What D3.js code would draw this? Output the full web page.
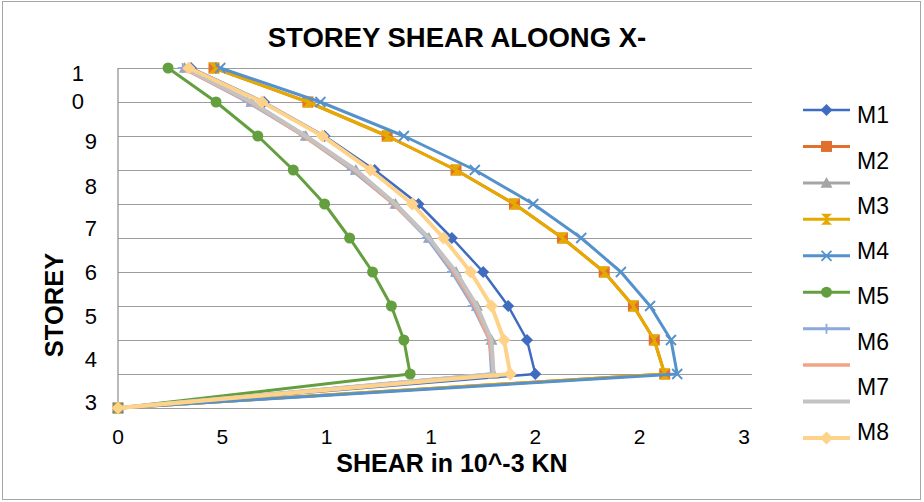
<!DOCTYPE html>
<html>
<head>
<meta charset="utf-8">
<script src="https://cdn.jsdelivr.net/npm/d3@7"></script>
<style>
  body { margin: 0; background: #fff; }
  svg { font-family: "Liberation Sans", Arial, sans-serif; }
</style>
</head>
<body>
<svg width="924" height="502"></svg>
<script>

// storey 0 (ground) up to 10
var storeys = [0, 1, 2, 3, 4, 5, 6, 7, 8, 9, 10];

var m1  = [0, 2.00, 1.96, 1.87, 1.75, 1.60, 1.44, 1.23, 0.99, 0.70, 0.35];
var m2  = [0, 2.62, 2.57, 2.47, 2.33, 2.13, 1.90, 1.62, 1.29, 0.91, 0.46];
var m3a = [0, 1.80, 1.79, 1.72, 1.62, 1.49, 1.33, 1.14, 0.90, 0.64, 0.32];
var m3  = [0, 2.62, 2.57, 2.47, 2.33, 2.13, 1.90, 1.62, 1.29, 0.91, 0.46];
var m4  = [0, 2.68, 2.65, 2.55, 2.41, 2.22, 1.99, 1.71, 1.37, 0.97, 0.49];
var m5  = [0, 1.40, 1.37, 1.31, 1.22, 1.11, 0.99, 0.84, 0.67, 0.47, 0.24];
var m6  = [0, 1.79, 1.78, 1.70, 1.60, 1.48, 1.32, 1.12, 0.89, 0.62, 0.31];
var m7a = [0, 1.80, 1.78, 1.71, 1.61, 1.49, 1.32, 1.13, 0.89, 0.63, 0.31];
var m7  = [0, 1.80, 1.79, 1.72, 1.62, 1.49, 1.33, 1.14, 0.90, 0.64, 0.32];
var m8  = [0, 1.88, 1.85, 1.79, 1.69, 1.56, 1.41, 1.21, 0.98, 0.69, 0.34];

var legendLabels = ["M1", "M2", "M3", "M4", "M5", "M6", "M7", "M8"];

var xTickValues = [0, 0.5, 1, 1.5, 2, 2.5, 3];
var xTickLabels = ["0", "5", "1", "1", "2", "2", "3"];

var yTickValues = [9.84, 9.03, 7.85, 6.53, 5.29, 3.99, 2.71, 1.44, 0.16];
var yTickLabels = ["1", "0", "9", "8", "7", "6", "5", "4", "3"];

// drawing order = excel series order
var series = [
    {values: m1,  color: '#3f6bc0', width: 2.5, marker: 'diamond', size: 6},
    {values: m2,  color: '#e0702c', width: 3,   marker: 'square',  size: 5.5},
    {values: m3a, color: '#a5a5a5', width: 3,   marker: 'triangle',size: 6},
    {values: m3,  color: '#e5a900', width: 3,   marker: 'bowtie',  size: 5.5},
    {values: m4,  color: '#5592cc', width: 3,   marker: 'x',       size: 5},
    {values: m5,  color: '#639f3f', width: 3,   marker: 'circle',  size: 5.5},
    {values: m6,  color: '#8ea9dc', width: 3,   marker: 'plus',    size: 5},
    {values: m7a, color: '#f1a486', width: 3.5, marker: 'none',    size: 0},
    {values: m7,  color: '#c3c3c3', width: 4,   marker: 'none',    size: 0},
    {values: m8,  color: '#ffd28a', width: 4,   marker: 'diamond', size: 6.5}
];

var svg = d3.select('svg');

// outer chart border
svg.append('rect')
    .attr('x', 2.5).attr('y', 1.5)
    .attr('width', 918).attr('height', 498)
    .attr('fill', '#fff')
    .attr('stroke', '#a6a6a6');

var scaleX = d3.scaleLinear().domain([0, 3]).range([118, 744]);
var scaleY = d3.scaleLinear().domain([0, 10]).range([408, 68]);

// horizontal gridlines
svg.append('g')
    .attr('transform', 'translate(118,0)')
    .call(d3.axisLeft(scaleY).ticks(10).tickSize(-634).tickFormat(''))
    .call(function(g){
        g.select('.domain').remove();
        g.selectAll('.tick line').attr('stroke', '#9d9d9d').attr('stroke-width', 1.2);
    });

// vertical axis line
svg.append('line')
    .attr('x1', 118).attr('x2', 118)
    .attr('y1', scaleY(10)).attr('y2', scaleY(0))
    .attr('stroke', '#8c8c8c').attr('stroke-width', 1.2);

// x tick labels
svg.append('g').selectAll('text')
    .data(xTickValues)
    .enter()
    .append('text')
    .attr('x', function(d){ return scaleX(d); })
    .attr('y', 444)
    .attr('text-anchor', 'middle')
    .attr('font-size', 21)
    .text(function(d, i){ return xTickLabels[i]; });

// y tick labels
svg.append('g').selectAll('text')
    .data(yTickValues)
    .enter()
    .append('text')
    .attr('x', function(d, i){ return i < 2 ? 84 : 97; })
    .attr('y', function(d){ return scaleY(d); })
    .attr('dy', '0.36em')
    .attr('text-anchor', 'end')
    .attr('font-size', 22)
    .text(function(d, i){ return yTickLabels[i]; });

svg.append('text')
    .text('STOREY SHEAR ALOONG X-')
    .attr('x', 457).attr('y', 47)
    .attr('text-anchor', 'middle')
    .attr('font-size', 27.5)
    .attr('font-weight', 'bold');

svg.append('text')
    .text('SHEAR in 10^-3 KN')
    .attr('x', 452).attr('y', 472)
    .attr('text-anchor', 'middle')
    .attr('font-size', 25)
    .attr('font-weight', 'bold');

svg.append('text')
    .text('STOREY')
    .attr('transform', 'translate(63,305) rotate(-90)')
    .attr('text-anchor', 'middle')
    .attr('font-size', 25.5)
    .attr('font-weight', 'bold');

function markerPath(type, s){
    if(type == 'diamond') return 'M0,' + (-s) + 'L' + s + ',0L0,' + s + 'L' + (-s) + ',0Z';
    if(type == 'square') return 'M' + (-s) + ',' + (-s) + 'h' + (2*s) + 'v' + (2*s) + 'h' + (-2*s) + 'Z';
    if(type == 'triangle') return 'M0,' + (-s) + 'L' + s + ',' + (s*0.8) + 'L' + (-s) + ',' + (s*0.8) + 'Z';
    if(type == 'bowtie') return 'M' + (-s) + ',' + (-s) + 'L' + s + ',' + (-s) + 'L' + (-s) + ',' + s + 'L' + s + ',' + s + 'Z';
    if(type == 'x') return 'M' + (-s) + ',' + (-s) + 'L' + s + ',' + s + 'M' + s + ',' + (-s) + 'L' + (-s) + ',' + s;
    if(type == 'plus') return 'M0,' + (-s) + 'V' + s + 'M' + (-s) + ',0H' + s;
    return '';
}

function drawMarker(g, type, s, color){
    if(type == 'none') return;
    if(type == 'circle'){
        g.append('circle').attr('r', s).attr('fill', color);
    }
    else if(type == 'x' || type == 'plus'){
        g.append('path').attr('d', markerPath(type, s))
            .attr('fill', 'none').attr('stroke', color).attr('stroke-width', 1.8);
    }
    else {
        g.append('path').attr('d', markerPath(type, s)).attr('fill', color);
    }
}

var line = d3.line()
    .x(function(d){ return scaleX(d[0]); })
    .y(function(d){ return scaleY(d[1]); });

series.forEach(function(s){
    var pts = s.values.map(function(v, i){ return [v, storeys[i]]; });
    var g = svg.append('g');
    g.append('path')
        .attr('d', line(pts))
        .attr('fill', 'none')
        .attr('stroke', s.color)
        .attr('stroke-width', s.width)
        .attr('stroke-linejoin', 'round');
    pts.forEach(function(p){
        var m = g.append('g').attr('transform', 'translate(' + scaleX(p[0]) + ',' + scaleY(p[1]) + ')');
        drawMarker(m, s.marker, s.size, s.color);
    });
});

// legend: swatches and names do not line up in the original
var swatchY = d3.scaleLinear().domain([0, series.length - 1]).range([110, 438]);
var labelY = d3.scaleLinear().domain([0, legendLabels.length - 1]).range([115, 432]);

series.forEach(function(s, i){
    var y = swatchY(i);
    svg.append('line')
        .attr('x1', 803).attr('x2', 850)
        .attr('y1', y).attr('y2', y)
        .attr('stroke', s.color)
        .attr('stroke-width', s.width);
    var m = svg.append('g').attr('transform', 'translate(826.5,' + y + ')');
    drawMarker(m, s.marker, s.size, s.color);
});

svg.append('g').selectAll('text')
    .data(legendLabels)
    .enter()
    .append('text')
    .attr('x', 857)
    .attr('y', function(d, i){ return labelY(i); })
    .attr('dy', '0.36em')
    .attr('font-size', 23)
    .text(function(d){ return d; });

</script>
</body>
</html>
